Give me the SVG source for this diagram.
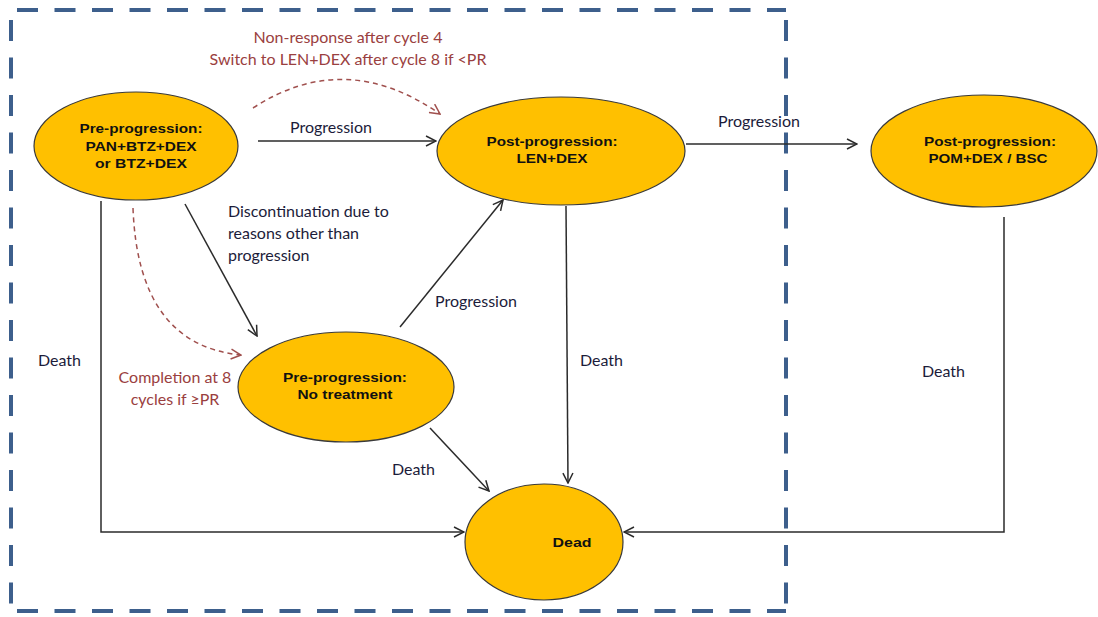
<svg xmlns="http://www.w3.org/2000/svg" width="1098" height="617" viewBox="0 0 1098 617">
  <style>
    .node { fill: #FFC000; stroke: #3a3a3a; stroke-width: 1.2; }
    .ntxt { font-family: "Liberation Sans", Arial, sans-serif; font-size: 13px; font-weight: bold; fill: #111; text-anchor: middle; }
    .edge { fill: none; stroke: #2b2b2b; stroke-width: 1.5; }
    .alt { fill: none; stroke: #a0504e; stroke-width: 1.5; stroke-dasharray: 5 4; }
    .lbl { font-family: Lato, "Open Sans", sans-serif; font-size: 16px; fill: #1c1c3a; }
    .rlbl { font-family: Lato, "Open Sans", sans-serif; font-size: 16px; fill: #9a4040; text-anchor: middle; }
    .frame { fill: none; stroke: #3d5f8c; stroke-width: 4; stroke-dasharray: 21 16.5; }
  </style>
  <defs>
    <marker id="arrow" viewBox="0 0 12 12" refX="11" refY="6" markerWidth="12" markerHeight="12" markerUnits="userSpaceOnUse" orient="auto">
      <path d="M1,1 L11,6 L1,11" fill="none" stroke="#2b2b2b" stroke-width="1.5"/>
    </marker>
    <marker id="arrowRed" viewBox="0 0 12 12" refX="11" refY="6" markerWidth="12" markerHeight="12" markerUnits="userSpaceOnUse" orient="auto">
      <path d="M1,1 L11,6 L1,11" fill="none" stroke="#a0504e" stroke-width="1.5"/>
    </marker>
  </defs>

  <rect width="1098" height="617" fill="#ffffff"/>

  <!-- dashed boundary around the first-line states -->
  <g id="boundary">
    <line class="frame" x1="17" y1="10" x2="786" y2="10"/>
    <line class="frame" x1="11" y1="20" x2="11" y2="605"/>
    <line class="frame" x1="786" y1="20" x2="786" y2="605"/>
    <line class="frame" x1="17" y1="611" x2="786" y2="611"/>
  </g>

  <g id="connectors">
    <!-- progression transitions -->
    <line class="edge" x1="258" y1="141" x2="436" y2="141" marker-end="url(#arrow)"/>
    <line class="edge" x1="686" y1="144" x2="857" y2="144" marker-end="url(#arrow)"/>
    <line class="edge" x1="400" y1="327" x2="503" y2="200" marker-end="url(#arrow)"/>
    <!-- discontinuation -->
    <line class="edge" x1="185" y1="204" x2="257" y2="336" marker-end="url(#arrow)"/>
    <!-- deaths -->
    <line class="edge" x1="566" y1="206" x2="568" y2="483" marker-end="url(#arrow)"/>
    <line class="edge" x1="430" y1="428" x2="489" y2="491" marker-end="url(#arrow)"/>
    <polyline class="edge" points="101,201 101,532 464,532" marker-end="url(#arrow)"/>
    <polyline class="edge" points="1004,217 1004,532 624,532" marker-end="url(#arrow)"/>
    <!-- conditional switches -->
    <path class="alt" d="M253,108 Q345,48 440,114" marker-end="url(#arrowRed)"/>
    <path class="alt" d="M133,208 Q138,345 241,355" marker-end="url(#arrowRed)"/>

    <!-- labels -->
    <text class="lbl" x="290" y="133">Progression</text>
    <text class="lbl" x="718" y="127">Progression</text>
    <text class="lbl" x="435" y="307">Progression</text>
    <text class="lbl" x="228" y="217">Discontinuation due to</text>
    <text class="lbl" x="228" y="239">reasons other than</text>
    <text class="lbl" x="228" y="261">progression</text>
    <text class="lbl" x="38" y="366">Death</text>
    <text class="lbl" x="580" y="366">Death</text>
    <text class="lbl" x="392" y="475">Death</text>
    <text class="lbl" x="922" y="377">Death</text>
    <text class="rlbl" x="348" y="43">Non-response after cycle 4</text>
    <text class="rlbl" x="348" y="65">Switch to LEN+DEX after cycle 8 if &lt;PR</text>
    <text class="rlbl" x="175" y="383">Completion at 8</text>
    <text class="rlbl" x="175" y="405">cycles if ≥PR</text>
  </g>

  <g id="pre-treated">
    <ellipse class="node" cx="136" cy="146" rx="102" ry="54"/>
    <text class="ntxt" x="141" y="133" textLength="123" lengthAdjust="spacingAndGlyphs">Pre-progression:</text>
    <text class="ntxt" x="141" y="151" textLength="111" lengthAdjust="spacingAndGlyphs">PAN+BTZ+DEX</text>
    <text class="ntxt" x="141" y="168" textLength="92" lengthAdjust="spacingAndGlyphs">or BTZ+DEX</text>
  </g>

  <g id="post-len-dex">
    <ellipse class="node" cx="561" cy="151" rx="124" ry="54"/>
    <text class="ntxt" x="552" y="146" textLength="131" lengthAdjust="spacingAndGlyphs">Post-progression:</text>
    <text class="ntxt" x="552" y="163" textLength="71" lengthAdjust="spacingAndGlyphs">LEN+DEX</text>
  </g>

  <g id="post-pom-dex">
    <ellipse class="node" cx="984" cy="151" rx="113" ry="56"/>
    <text class="ntxt" x="990" y="146" textLength="132" lengthAdjust="spacingAndGlyphs">Post-progression:</text>
    <text class="ntxt" x="988" y="163" textLength="119" lengthAdjust="spacingAndGlyphs">POM+DEX / BSC</text>
  </g>

  <g id="pre-no-treatment">
    <ellipse class="node" cx="346" cy="387" rx="108" ry="55"/>
    <text class="ntxt" x="345" y="382" textLength="124" lengthAdjust="spacingAndGlyphs">Pre-progression:</text>
    <text class="ntxt" x="345" y="399" textLength="95" lengthAdjust="spacingAndGlyphs">No treatment</text>
  </g>

  <g id="dead">
    <ellipse class="node" cx="544" cy="542" rx="79" ry="58"/>
    <text class="ntxt" x="572" y="547" textLength="39" lengthAdjust="spacingAndGlyphs">Dead</text>
  </g>
</svg>
